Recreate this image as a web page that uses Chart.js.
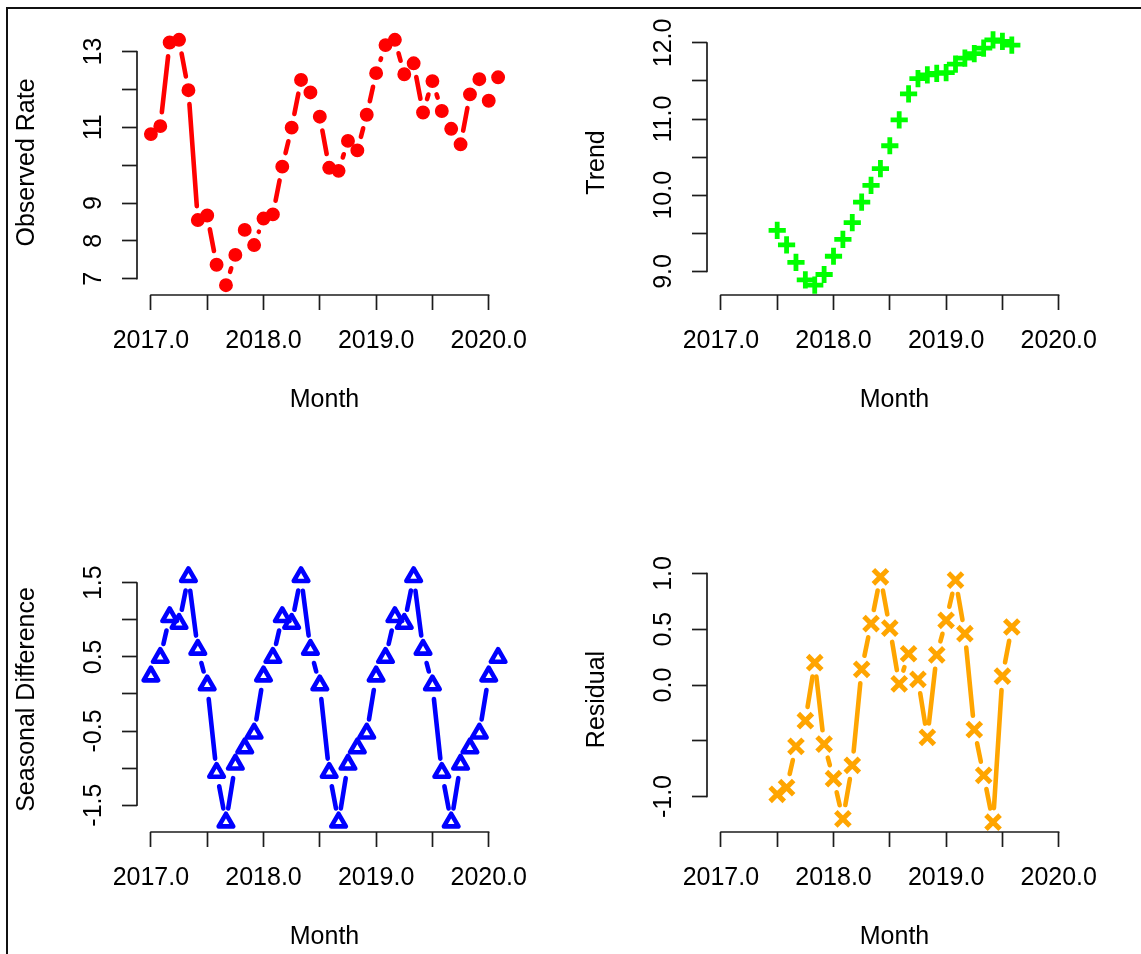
<!DOCTYPE html>
<html>
<head>
<meta charset="utf-8">
<script src="https://cdn.jsdelivr.net/npm/chart.js@4.4.0/dist/chart.umd.min.js"></script>
<style>
  html, body { margin: 0; padding: 0; background: #fff; overflow: hidden; width: 1141px; height: 954px; }
  #frame { position: absolute; left: 6px; top: 7px; width: 1300px; height: 1200px;
           border-left: 2px solid #111; border-top: 2px solid #111; }
  canvas { position: absolute; }
</style>
</head>
<body>
<div id="frame"></div>
<canvas id="observed" width="569" height="537" style="left:7px;top:8px"></canvas>
<canvas id="trend" width="569" height="537" style="left:577px;top:8px"></canvas>
<canvas id="seasonal" width="569" height="537" style="left:7px;top:545px"></canvas>
<canvas id="residual" width="569" height="537" style="left:577px;top:545px"></canvas>
<script>
// Monthly time index of the series
const months = [
  '2017-01','2017-02','2017-03','2017-04','2017-05','2017-06','2017-07','2017-08','2017-09','2017-10','2017-11','2017-12',
  '2018-01','2018-02','2018-03','2018-04','2018-05','2018-06','2018-07','2018-08','2018-09','2018-10','2018-11','2018-12',
  '2019-01','2019-02','2019-03','2019-04','2019-05','2019-06','2019-07','2019-08','2019-09','2019-10','2019-11','2019-12',
  '2020-01','2020-02'
];
// Trend and residual are only defined from July 2017 to August 2019
const trendMonths = months.slice(6, 32);

const observedRate = [
  10.82, 11.03, 13.24, 13.31, 11.98, 8.55, 8.67, 7.37, 6.83, 7.63, 8.29, 7.89,
  8.59, 8.70, 9.96, 10.99, 12.25, 11.92, 11.28, 9.93, 9.85, 10.64, 10.39, 11.33,
  12.43, 13.17, 13.31, 12.40, 12.69, 11.39, 12.22, 11.43, 10.96, 10.55, 11.87, 12.27,
  11.70, 12.32
];
const trend = [
  9.54, 9.35, 9.12, 8.89, 8.82, 8.96, 9.20, 9.42, 9.64, 9.91, 10.13, 10.35,
  10.65, 10.99, 11.33, 11.53, 11.58, 11.60, 11.61, 11.72, 11.80, 11.86, 11.93, 12.04,
  12.02, 11.97
];
const seasonalDifference = [
  0.24, 0.49, 1.04, 0.95, 1.58, 0.60, 0.12, -1.06, -1.73, -0.95, -0.73, -0.53,
  0.24, 0.49, 1.04, 0.95, 1.58, 0.60, 0.12, -1.06, -1.73, -0.95, -0.73, -0.53,
  0.24, 0.49, 1.04, 0.95, 1.58, 0.60, 0.12, -1.06, -1.73, -0.95, -0.73, -0.53,
  0.24, 0.49
];
const residual = [
  -0.98, -0.92, -0.55, -0.32, 0.20, -0.53, -0.84, -1.20, -0.72, 0.14, 0.55, 0.97,
  0.51, 0.01, 0.28, 0.05, -0.47, 0.27, 0.58, 0.94, 0.46, -0.40, -0.81, -1.23,
  0.08, 0.52
];

// Axis ticks and their labels (blank labels leave a bare tick mark)
const xTickValues = [2017, 2017.5, 2018, 2018.5, 2019, 2019.5, 2020];
const xTickLabels = ['2017.0', '', '2018.0', '', '2019.0', '', '2020.0'];
const observedTicks = [7, 8, 9, 10, 11, 12, 13];
const observedTickLabels = ['7', '8', '9', '', '11', '', '13'];
const trendTicks = [9, 9.5, 10, 10.5, 11, 11.5, 12];
const trendTickLabels = ['9.0', '', '10.0', '', '11.0', '', '12.0'];
const seasonalTicks = [-1.5, -1, -0.5, 0, 0.5, 1, 1.5];
const seasonalTickLabels = ['-1.5', '', '-0.5', '', '0.5', '', '1.5'];
const residualTicks = [-1, -0.5, 0, 0.5, 1];
const residualTickLabels = ['-1.0', '', '0.0', '0.5', '1.0'];

const FONT = "'Liberation Sans', Arial, Helvetica, sans-serif";
const AXIS = '#1c1c1c';

const toYear = m => { const [y, mo] = m.split('-').map(Number); return y + (mo - 1) / 12; };
const timeOf = arr => arr.map(toYear);
const observedTimes = timeOf(months);

// Axis range extended by 4% at both ends
function extended(values) {
  const lo = Math.min(...values), hi = Math.max(...values);
  const pad = 0.04 * (hi - lo);
  return [lo - pad, hi + pad];
}
const [xMin, xMax] = extended(observedTimes);

// Lines between points that stop short of each marker
const gapLines = {
  id: 'gapLines',
  beforeDatasetsDraw(chart, args, opts) {
    const ctx = chart.ctx;
    ctx.save();
    ctx.lineJoin = 'round';
    if (!opts.enabled) return;
    const pts = chart.getDatasetMeta(0).data;
    ctx.save();
    ctx.strokeStyle = opts.color;
    ctx.lineWidth = opts.width;
    ctx.lineCap = 'round';
    for (let i = 0; i < pts.length - 1; i++) {
      const a = pts[i], b = pts[i + 1];
      const dx = b.x - a.x, dy = b.y - a.y;
      const d = Math.hypot(dx, dy);
      if (d <= 2 * opts.gap) continue;
      const ux = dx / d, uy = dy / d;
      ctx.beginPath();
      ctx.moveTo(a.x + ux * opts.gap, a.y + uy * opts.gap);
      ctx.lineTo(b.x - ux * opts.gap, b.y - uy * opts.gap);
      ctx.stroke();
    }
    ctx.restore();
  },
  afterDatasetsDraw(chart) {
    chart.ctx.restore();
  }
};

// Axis lines spanning first to last tick, and rotated y tick labels
const rAxes = {
  id: 'rAxes',
  afterDraw(chart, args, opts) {
    const { ctx, chartArea, scales: { x, y } } = chart;
    ctx.save();
    ctx.strokeStyle = AXIS;
    ctx.lineWidth = 1.7;
    ctx.lineCap = 'round';
    const xa = x.ticks[0].value, xb = x.ticks[x.ticks.length - 1].value;
    ctx.beginPath();
    ctx.moveTo(x.getPixelForValue(xa), chartArea.bottom);
    ctx.lineTo(x.getPixelForValue(xb), chartArea.bottom);
    ctx.stroke();
    const ya = y.ticks[0].value, yb = y.ticks[y.ticks.length - 1].value;
    ctx.beginPath();
    ctx.moveTo(chartArea.left, y.getPixelForValue(ya));
    ctx.lineTo(chartArea.left, y.getPixelForValue(yb));
    ctx.stroke();

    ctx.fillStyle = '#000';
    ctx.font = '25px ' + FONT;
    ctx.textAlign = 'center';
    ctx.textBaseline = 'alphabetic';
    y.ticks.forEach((t, i) => {
      const label = opts.labels[i];
      if (!label) return;
      ctx.save();
      ctx.translate(chartArea.left - 36, y.getPixelForValue(t.value));
      ctx.rotate(-Math.PI / 2);
      ctx.fillText(label, 0, 0);
      ctx.restore();
    });
    ctx.restore();
  }
};

function panel(id, p) {
  const [yMin, yMax] = extended(p.values);
  return new Chart(document.getElementById(id), {
    type: 'scatter',
    data: {
      datasets: [{
        data: p.times.map((t, i) => ({ x: t, y: p.values[i] })),
        pointStyle: p.style,
        pointRadius: p.radius,
        pointHoverRadius: p.radius,
        pointBorderWidth: p.border,
        pointBackgroundColor: p.fill,
        pointBorderColor: p.color,
        showLine: false,
        clip: false
      }]
    },
    options: {
      responsive: false,
      animation: false,
      devicePixelRatio: 1,
      events: [],
      layout: { padding: { left: 0, top: 22, right: 64, bottom: 120 } },
      plugins: {
        legend: { display: false },
        tooltip: { enabled: false },
        gapLines: { enabled: p.lines, gap: 14, width: 4.6, color: p.color },
        rAxes: { labels: p.tickLabels }
      },
      scales: {
        x: {
          type: 'linear', position: 'bottom', min: xMin, max: xMax,
          afterBuildTicks: s => { s.ticks = xTickValues.map(v => ({ value: v })); },
          afterFit: s => { s.height = 130; },
          border: { display: false },
          grid: { drawOnChartArea: false, drawTicks: true, tickLength: 15, tickWidth: 1.7, tickColor: AXIS },
          ticks: {
            autoSkip: false, maxRotation: 0, minRotation: 0, padding: 16, color: '#000',
            font: { family: FONT, size: 25 },
            callback: (v, i) => xTickLabels[i]
          },
          title: { display: true, text: 'Month', color: '#000', font: { family: FONT, size: 25 },
                   padding: { top: 0, bottom: 10 } }
        },
        y: {
          type: 'linear', position: 'left', min: yMin, max: yMax,
          afterBuildTicks: s => { s.ticks = p.ticks.map(v => ({ value: v })); },
          afterFit: s => { s.width = 130; },
          border: { display: false },
          grid: { drawOnChartArea: false, drawTicks: true, tickLength: 15, tickWidth: 1.7, tickColor: AXIS },
          ticks: { display: false },
          title: { display: true, text: p.title, color: '#000', font: { family: FONT, size: 25 },
                   padding: { top: 5, bottom: 0 } }
        }
      }
    },
    plugins: [gapLines, rAxes]
  });
}

panel('observed', {
  title: 'Observed Rate', times: observedTimes, values: observedRate,
  ticks: observedTicks, tickLabels: observedTickLabels,
  style: 'circle', radius: 6.2, border: 1.5, color: '#ff0000', fill: '#ff0000', lines: true
});
panel('trend', {
  title: 'Trend', times: timeOf(trendMonths), values: trend,
  ticks: trendTicks, tickLabels: trendTickLabels,
  style: 'cross', radius: 8.6, border: 4.8, color: '#00ff00', fill: '#00ff00', lines: false
});
panel('seasonal', {
  title: 'Seasonal Difference', times: observedTimes, values: seasonalDifference,
  ticks: seasonalTicks, tickLabels: seasonalTickLabels,
  style: 'triangle', radius: 8.4, border: 4.6, color: '#0000ff', fill: 'rgba(0,0,0,0)', lines: true
});
panel('residual', {
  title: 'Residual', times: timeOf(trendMonths), values: residual,
  ticks: residualTicks, tickLabels: residualTickLabels,
  style: 'crossRot', radius: 10, border: 5, color: '#ffa500', fill: '#ffa500', lines: true
});
</script>
</body>
</html>
